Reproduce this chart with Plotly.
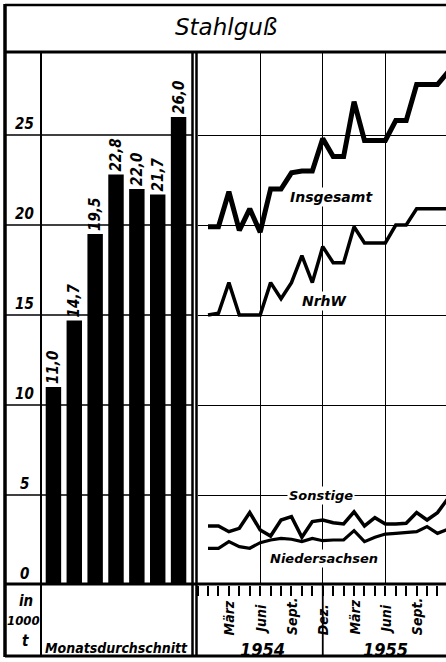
import plotly.graph_objects as go

W, H = 446, 662
FONT = "DejaVu Sans Condensed, DejaVu Sans"
FONT2 = "DejaVu Sans"

# ---- data ----
years = ["1949", "1950", "1951", "1952", "1953", "1954", "1955"]
avg = [11.0, 14.7, 19.5, 22.8, 22.0, 21.7, 26.0]

# months Jan 1954 .. Dez 1955 as index 1..24
months = list(range(1, 25))
insgesamt = [19.9, 19.9, 21.85, 19.7, 20.9, 19.6, 22.0, 22.0, 22.9, 23.0, 23.0, 24.8,
             23.8, 23.8, 26.85, 24.7, 24.7, 24.7, 25.8, 25.8, 27.8, 27.8, 27.8, 28.5]
nrhw = [15.0, 15.1, 16.8, 15.0, 15.0, 15.0, 16.8, 15.9, 16.8, 18.3, 16.8, 18.8,
        17.9, 17.9, 19.9, 19.0, 19.0, 19.0, 20.0, 20.0, 20.9, 20.9, 20.9, 20.9]
sonstige = [3.28, 3.28, 2.96, 3.15, 4.02, 3.06, 2.72, 3.61, 3.80, 2.65, 3.52, 3.61,
            3.46, 3.39, 4.07, 3.28, 3.74, 3.39, 3.39, 3.43, 4.02, 3.61, 4.02, 4.8]
niedersachsen = [2.04, 2.04, 2.41, 2.13, 2.04, 2.35, 2.5, 2.59, 2.54, 2.41, 2.59, 2.46,
                 2.5, 2.5, 3.02, 2.41, 2.65, 2.83, 2.87, 2.91, 2.96, 3.24, 2.87, 3.1]

month_tick_pos = [3, 6, 9, 12, 15, 18, 21]
month_tick_txt = ["März", "Juni", "Sept.", "Dez.", "März", "Juni", "Sept."]
year_pos = [6.2, 18.0]
year_txt = ["1954", "1955"]
y_ticks = [0, 5, 10, 15, 20, 25]

bar_labels = [f"{v:.1f}".replace(".", ",") for v in avg]


def X(px):
    return px / W


def Y(py):
    return 1 - py / H


Y_TOP, Y_BASE = 53, 585
YMAX = (Y_BASE - Y_TOP) / 18.0
X2_LEFT = 197.6
X2_MAX = (W - X2_LEFT) / 10.43

fig = go.Figure()

fig.add_trace(go.Bar(
    x=years, y=avg, marker=dict(color="black", line=dict(width=0)), width=0.74,
    text=bar_labels, textposition="outside", textangle=-90, constraintext="none",
    textfont=dict(family=FONT, size=15, color="black", style="italic", weight="bold"),
    cliponaxis=False, xaxis="x", yaxis="y", hoverinfo="skip"))

for vals, lw in [(insgesamt, 5), (nrhw, 3.5), (sonstige, 3.5), (niedersachsen, 3.2)]:
    fig.add_trace(go.Scatter(x=months, y=vals, mode="lines",
                             line=dict(color="black", width=lw),
                             xaxis="x2", yaxis="y2", hoverinfo="skip"))

shapes = []


def line(x0, y0, x1, y1, w=2, xref="paper", yref="paper", layer="above"):
    shapes.append(dict(type="line", x0=x0, y0=y0, x1=x1, y1=y1, xref=xref, yref=yref,
                       line=dict(color="black", width=w), layer=layer))


# left horizontal gridlines across label column and bar area
for t in y_ticks[1:]:
    line(X(5), t, X(192), t, 1.3, yref="y", layer="below")

# frame
line(X(5), Y(4), X(5), Y(657), 3.5)          # left border
line(X(5), Y(5), X(W), Y(5), 2.5)            # top
line(X(5), Y(52), X(W), Y(52), 3)            # under title
line(X(41), Y(52), X(41), Y(657), 2)         # label column
line(X(192.5), Y(52), X(192.5), Y(657), 2.5)  # double separator
line(X(196.5), Y(52), X(196.5), Y(657), 2.5)
line(X(5), Y(584), X(W), Y(584), 3)          # baseline
line(X(5), Y(656), X(W), Y(656), 3)          # bottom
line(12, Y(585), 12, Y(656), 1.8, xref="x2")  # year separator

annotations = []


def txt(x, y, s, size, xref="paper", yref="paper", xanchor="center", yanchor="middle",
        angle=0, bold=True, bg=None, family=FONT):
    a = dict(x=x, y=y, text=s, xref=xref, yref=yref, xanchor=xanchor, yanchor=yanchor,
             showarrow=False, textangle=angle,
             font=dict(family=family, size=size, color="black", style="italic",
                       weight="bold" if bold else "normal"))
    if bg:
        a["bgcolor"] = bg
        a["borderpad"] = 1
    annotations.append(a)


txt(X(226), Y(27), "Stahlguß", 23, bold=False, family=FONT2)

for t in y_ticks:
    txt(X(24), t, str(t), 15, yref="y", yanchor="bottom")

for yv in years:
    txt(yv, Y(628), yv, 14, xref="x", yanchor="bottom", angle=-90)
txt(X(117), Y(648), "Monatsdurchschnitt", 14)
txt(X(26), Y(601), "in", 15)
txt(X(23), Y(620), "1000", 13)
txt(X(25), Y(641), "t", 15)

for p, s in zip(month_tick_pos, month_tick_txt):
    txt(p, Y(637), s, 14, xref="x2", yanchor="bottom", angle=-90)
for p, s in zip(year_pos, year_txt):
    txt(p, Y(649), s, 18, xref="x2", bold=True)

txt(12.8, 21.55, "Insgesamt", 14, xref="x2", yref="y2", bold=True, bg="white", family=FONT2)
txt(12.2, 15.8, "NrhW", 14, xref="x2", yref="y2", bold=True, bg="white", family=FONT2)
txt(11.8, 5.0, "Sonstige", 13, xref="x2", yref="y2", bold=True, bg="white", family=FONT2)
txt(12.15, 1.5, "Niedersachsen", 13, xref="x2", yref="y2", bold=True, bg="white", family=FONT2)

ydom = [Y(Y_BASE), Y(Y_TOP)]
fig.update_layout(
    width=W, height=H, margin=dict(l=0, r=0, t=0, b=0),
    paper_bgcolor="white", plot_bgcolor="white", showlegend=False,
    shapes=shapes, annotations=annotations,
    xaxis=dict(domain=[X(43), X(189)], type="category", range=[-0.5, 6.5],
               showticklabels=False, showgrid=False, zeroline=False, showline=False,
               ticks="", fixedrange=True),
    yaxis=dict(domain=ydom, range=[0, YMAX], showticklabels=False, showgrid=False,
               zeroline=False, showline=False, ticks="", fixedrange=True),
    xaxis2=dict(domain=[X(X2_LEFT), 1], anchor="y2", range=[0, X2_MAX],
                tick0=0, dtick=6, showgrid=True, gridcolor="black", gridwidth=1.2,
                ticks="outside", ticklen=10, tickwidth=1.5, tickcolor="black",
                showticklabels=False, zeroline=False, showline=False,
                minor=dict(tick0=0, dtick=1, ticks="outside", ticklen=10, tickwidth=1.5,
                           tickcolor="black", showgrid=False),
                fixedrange=True),
    yaxis2=dict(domain=ydom, anchor="x2", range=[0, YMAX], tick0=0, dtick=5,
                showgrid=True, gridcolor="black", gridwidth=1.3, showticklabels=False,
                zeroline=False, showline=False, ticks="", fixedrange=True),
)

fig.write_html("out.html", config={"displayModeBar": False},
               post_script="document.body.style.margin='0px';document.body.style.overflow='hidden';")
